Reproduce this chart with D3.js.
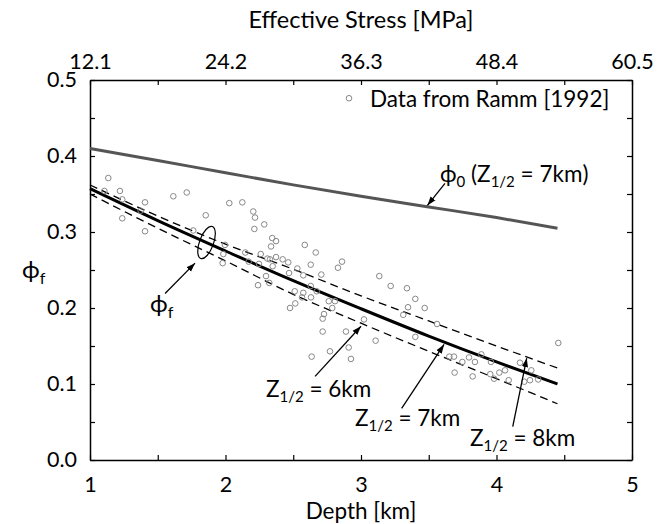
<!DOCTYPE html>
<html>
<head>
<meta charset="utf-8">
<script src="https://cdn.jsdelivr.net/npm/d3@7"></script>
<style>
  body { margin: 0; background: #fff; }
  svg text { font-family: Lato, "Noto Sans", sans-serif; fill: #000; }
</style>
</head>
<body>
<svg id="chart" width="664" height="524"></svg>
<script>
// depth grid for model curves (km)
const depthGrid = [1.0, 1.5, 2.0, 2.5, 3.0, 3.5, 4.0, 4.45];
// initial porosity phi_0, Z1/2 = 7km
const phi0 = [0.410, 0.394, 0.378, 0.362, 0.347, 0.333, 0.319, 0.305];
// final porosity phi_f for Z1/2 = 6, 7, 8 km
const phiF6 = [0.350, 0.305, 0.262, 0.218, 0.180, 0.143, 0.107, 0.074];
const phiF7 = [0.357, 0.315, 0.275, 0.236, 0.199, 0.163, 0.129, 0.100];
const phiF8 = [0.362, 0.321, 0.284, 0.251, 0.216, 0.183, 0.150, 0.121];

// Ramm [1992] data
const rammDepth = [1.135, 1.106, 1.221, 1.238, 1.406, 1.374, 1.238, 1.406, 1.615, 1.714,
  1.854, 1.762, 2.028, 2.124, 2.205, 2.218, 2.286, 2.213, 2.345, 2.373,
  2.336, 1.996, 1.984, 1.979, 2.146, 2.260, 2.309, 2.328, 2.373, 2.422,
  2.463, 2.348, 2.171, 2.247, 2.299, 2.240, 2.323, 2.469, 2.585, 2.666,
  2.629, 2.860, 2.830, 2.530, 2.574, 2.707, 2.629, 2.511, 2.574, 2.673,
  2.565, 2.631, 2.762, 2.808, 2.515, 2.476, 2.788, 2.727, 2.717, 3.135,
  3.219, 3.339, 3.401, 3.347, 3.470, 3.312, 3.022, 2.717, 2.889, 3.108,
  3.401, 2.771, 2.909, 2.636, 2.926, 3.652, 3.686, 3.748, 3.797, 3.841,
  3.888, 3.959, 3.691, 3.824, 3.954, 3.982, 4.021, 4.063, 4.090, 4.173,
  4.257, 4.205, 4.247, 4.308, 4.456, 3.561];
const rammPhi = [0.371, 0.354, 0.354, 0.343, 0.339, 0.328, 0.318, 0.301, 0.347, 0.352,
  0.322, 0.302, 0.338, 0.339, 0.327, 0.319, 0.310, 0.304, 0.292, 0.288,
  0.281, 0.283, 0.271, 0.259, 0.273, 0.271, 0.265, 0.264, 0.267, 0.264,
  0.260, 0.255, 0.261, 0.258, 0.242, 0.230, 0.233, 0.246, 0.283, 0.273,
  0.257, 0.261, 0.253, 0.252, 0.243, 0.244, 0.229, 0.222, 0.220, 0.222,
  0.214, 0.214, 0.209, 0.209, 0.206, 0.200, 0.200, 0.192, 0.186, 0.242,
  0.229, 0.226, 0.212, 0.201, 0.200, 0.191, 0.185, 0.169, 0.169, 0.157,
  0.162, 0.143, 0.148, 0.136, 0.133, 0.136, 0.136, 0.129, 0.135, 0.129,
  0.139, 0.129, 0.115, 0.110, 0.113, 0.107, 0.115, 0.118, 0.105, 0.128,
  0.118, 0.103, 0.105, 0.106, 0.154, 0.179];

// axis ticks
const xTicks = [1, 1.5, 2, 2.5, 3, 3.5, 4, 4.5, 5];
const yTicks = [0, 0.05, 0.1, 0.15, 0.2, 0.25, 0.3, 0.35, 0.4, 0.45, 0.5];
const stressPerKm = 12.1;

const margin = {top: 80, right: 32, bottom: 64, left: 90};
const width = 664 - margin.left - margin.right;
const height = 524 - margin.top - margin.bottom;

const svg = d3.select("#chart");
const g = svg.append("g").attr("transform", `translate(${margin.left},${margin.top})`);

const x = d3.scaleLinear().domain([1, 5]).range([0, width]);
const y = d3.scaleLinear().domain([0, 0.5]).range([height, 0]);

// arrow head marker
svg.append("defs").append("marker")
  .attr("id", "head")
  .attr("viewBox", "0 0 10 10")
  .attr("refX", 10).attr("refY", 5)
  .attr("markerWidth", 9).attr("markerHeight", 9)
  .attr("markerUnits", "userSpaceOnUse")
  .attr("orient", "auto")
  .append("path").attr("d", "M0,1.5 L10,5 L0,8.5 Z").attr("fill", "#000");

// axes, ticks pointing inward
const fmtY = d => (Math.round(d * 100) % 10 === 0) ? d.toFixed(1) : "";
const fmtX = d => Number.isInteger(d) ? d : "";
const fmtTop = d => Number.isInteger(d) ? (d * stressPerKm).toFixed(1) : "";

function styleAxis(sel) {
  sel.selectAll("path.domain").attr("stroke", "#000").attr("stroke-width", 1.5);
  sel.selectAll(".tick line").attr("stroke", "#000").attr("stroke-width", 1.2);
  sel.selectAll(".tick text").style("font-size", "21.5px").attr("fill", "#000");
}

g.append("g").attr("transform", `translate(0,${height})`)
  .call(d3.axisBottom(x).tickValues(xTicks).tickFormat(fmtX).tickSize(-5).tickSizeOuter(0).tickPadding(17))
  .call(styleAxis);
g.append("g")
  .call(d3.axisTop(x).tickValues(xTicks).tickFormat(fmtTop).tickSize(-5).tickSizeOuter(0).tickPadding(11))
  .call(styleAxis);
g.append("g")
  .call(d3.axisLeft(y).tickValues(yTicks).tickFormat(fmtY).tickSize(-5).tickSizeOuter(0).tickPadding(13))
  .call(styleAxis);
g.append("g").attr("transform", `translate(${width},0)`)
  .call(d3.axisRight(y).tickValues(yTicks).tickFormat("").tickSize(-5).tickSizeOuter(0))
  .call(styleAxis);

svg.selectAll(".domain").attr("fill", "none");

// axis titles
svg.append("text").attr("x", margin.left + width / 2).attr("y", 519)
  .attr("text-anchor", "middle").style("font-size", "22.5px").text("Depth [km]");
svg.append("text").attr("x", margin.left + width / 2).attr("y", 28)
  .attr("text-anchor", "middle").style("font-size", "23.5px").text("Effective Stress [MPa]");
const yl = svg.append("text").attr("x", 22).attr("y", 278).style("font-size", "24px");
yl.append("tspan").text("ϕ");
yl.append("tspan").attr("dy", 6).style("font-size", "16px").text("f");

// model curves
const line = d3.line().x((d, i) => x(depthGrid[i])).y(d => y(d)).curve(d3.curveMonotoneX);

g.append("path").datum(phi0).attr("d", line)
  .attr("fill", "none").attr("stroke", "#555").attr("stroke-width", 3);
g.append("path").datum(phiF7).attr("d", line)
  .attr("fill", "none").attr("stroke", "#000").attr("stroke-width", 3);
[phiF6, phiF8].forEach(s => {
  g.append("path").datum(s).attr("d", line)
    .attr("fill", "none").attr("stroke", "#000").attr("stroke-width", 1.3)
    .attr("stroke-dasharray", "8,5");
});

// data points
g.selectAll("circle.ramm")
  .data(rammDepth.map((d, i) => [d, rammPhi[i]]))
  .join("circle")
    .attr("class", "ramm")
    .attr("cx", d => x(d[0]))
    .attr("cy", d => y(d[1]))
    .attr("r", 2.8)
    .attr("fill", "none")
    .attr("stroke", "#888")
    .attr("stroke-width", 1);

// legend
g.append("circle").attr("cx", x(1 + 259 / 135.5)).attr("cy", y(0.476)).attr("r", 2.8)
  .attr("fill", "none").attr("stroke", "#888");
g.append("text").attr("x", x(1 + 280 / 135.5)).attr("y", y(0.465))
  .style("font-size", "22.5px").text("Data from Ramm [1992]");

// ellipse marking phi_f
const ex = 1.86;
const ey = d3.interpolateNumber(phiF7[1], phiF7[2])((ex - 1.5) / 0.5);
g.append("ellipse")
  .attr("transform", `translate(${x(ex)},${y(ey)}) rotate(20)`)
  .attr("rx", 7).attr("ry", 17)
  .attr("fill", "none").attr("stroke", "#000").attr("stroke-width", 1.2);

// annotation arrows [x1, y1, x2, y2] in data units
const arrows = [
  [3.62, 0.364, 3.49, 0.335],
  [1.554, 0.219, 1.775, 0.259],
  [2.661, 0.110, 3.0, 0.176],
  [3.300, 0.068, 3.613, 0.152],
  [4.120, 0.044, 4.223, 0.134]
];
g.selectAll("line.arrow").data(arrows).join("line")
  .attr("class", "arrow")
  .attr("x1", d => x(d[0])).attr("y1", d => y(d[1]))
  .attr("x2", d => x(d[2])).attr("y2", d => y(d[3]))
  .attr("stroke", "#000").attr("stroke-width", 1.3)
  .attr("marker-end", "url(#head)");

// annotation labels
function zLabel(px, py, val) {
  const t = svg.append("text").attr("x", px).attr("y", py).style("font-size", "22.5px");
  t.append("tspan").text("Z");
  t.append("tspan").attr("dy", 5).style("font-size", "15px").text("1/2");
  t.append("tspan").attr("dy", -5).text(" = " + val + "km");
  return t;
}
const a0 = svg.append("text").attr("x", 440).attr("y", 182).style("font-size", "22.5px");
a0.append("tspan").text("ϕ");
a0.append("tspan").attr("dy", 5).style("font-size", "15px").text("0");
a0.append("tspan").attr("dy", -5).text(" (Z");
a0.append("tspan").attr("dy", 5).style("font-size", "15px").text("1/2");
a0.append("tspan").attr("dy", -5).text(" = 7km)");

const af = svg.append("text").attr("x", 150).attr("y", 312).style("font-size", "24px");
af.append("tspan").text("ϕ");
af.append("tspan").attr("dy", 6).style("font-size", "16px").text("f");

zLabel(266, 397, 6);
zLabel(355, 426, 7);
zLabel(470, 446, 8);
</script>
</body>
</html>
